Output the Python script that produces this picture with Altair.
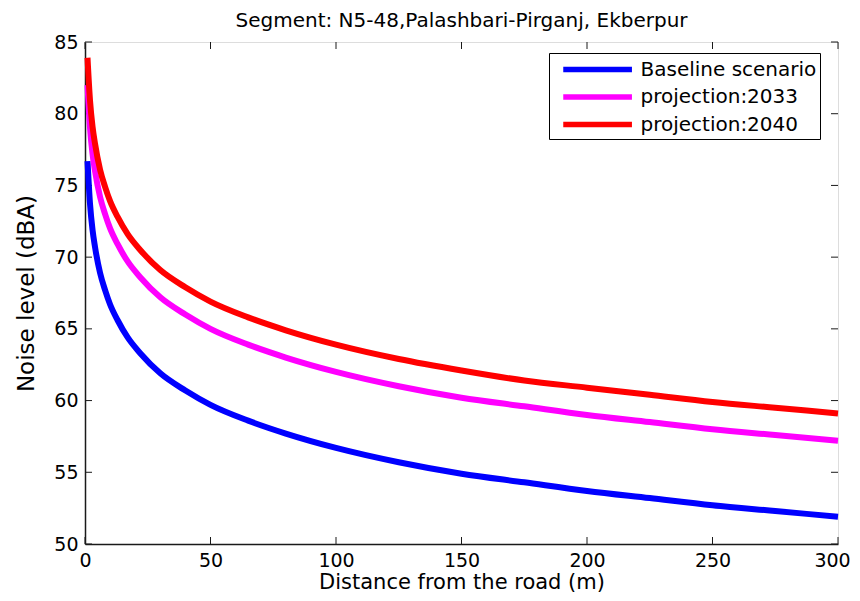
import altair as alt
import pandas as pd

# ---- data ----
distance = [1, 2, 3, 4, 6, 8, 10, 13, 17, 22, 30, 40, 50, 65, 80, 100,
            125, 150, 175, 200, 225, 250, 275, 300]
baseline = [76.7, 73.7, 71.9, 70.7, 68.9, 67.7, 66.7, 65.6, 64.4, 63.3, 61.9, 60.7,
            59.7, 58.6, 57.7, 56.7, 55.7, 54.9, 54.3, 53.7, 53.2, 52.7, 52.3, 51.9]
proj_2033 = [82.0, 79.0, 77.2, 76.0, 74.2, 73.0, 72.0, 70.9, 69.7, 68.6, 67.2, 66.0,
             65.0, 63.9, 63.0, 62.0, 61.0, 60.2, 59.6, 59.0, 58.5, 58.0, 57.6, 57.2]
proj_2040 = [83.9, 80.9, 79.1, 77.9, 76.1, 74.9, 73.9, 72.8, 71.6, 70.5, 69.1, 67.9,
             66.9, 65.8, 64.9, 63.9, 62.9, 62.1, 61.4, 60.9, 60.4, 59.9, 59.5, 59.1]

series_names = ["Baseline scenario", "projection:2033", "projection:2040"]
series_colors = ["#0000FF", "#FF00FF", "#FF0000"]

x_ticks = [0, 50, 100, 150, 200, 250, 300]
y_ticks = [50, 55, 60, 65, 70, 75, 80, 85]

title_text = "Segment: N5-48,Palashbari-Pirganj, Ekberpur"
x_title = "Distance from the road (m)"
y_title = "Noise level (dBA)"

FONT = "DejaVu Sans"
W, H = 753, 502
TICK = 7

rows = []
for name, vals in zip(series_names, [baseline, proj_2033, proj_2040]):
    for d, v in zip(distance, vals):
        rows.append({"Distance": d, "Noise": v, "Series": name})
df = pd.DataFrame(rows)
xt = pd.DataFrame({"Distance": x_ticks})
yt = pd.DataFrame({"Noise": y_ticks})

x_scale = alt.Scale(domain=[0, 300], nice=False, zero=False)
y_scale = alt.Scale(domain=[50, 85], nice=False, zero=False)

x_axis = alt.Axis(values=x_ticks, ticks=False, tickSize=0, grid=False, labelFlush=False,
                  labelOverlap=False, labelPadding=7, titlePadding=1,
                  labelOffset={"condition": {"test": "datum.value == 300", "value": -6},
                               "value": 0},
                  labelFont=FONT, labelFontSize=19, labelColor="black",
                  titleFont=FONT, titleFontSize=21, titleFontWeight="normal", titleColor="black",
                  domainColor="#1a1a1a", domainWidth=1.5)
y_axis = alt.Axis(values=y_ticks, ticks=False, tickSize=0, grid=False, labelFlush=False,
                  labelOverlap=False, labelPadding=7, titlePadding=15,
                  labelFont=FONT, labelFontSize=19, labelColor="black",
                  titleFont=FONT, titleFontSize=23, titleFontWeight="normal", titleColor="black",
                  domainColor="#1a1a1a", domainWidth=1.5)

X = alt.X("Distance:Q", scale=x_scale, axis=x_axis, title=x_title)
Y = alt.Y("Noise:Q", scale=y_scale, axis=y_axis, title=y_title)

lines = alt.Chart(df).mark_line(strokeWidth=6, interpolate="monotone").encode(
    x=X,
    y=Y,
    color=alt.Color("Series:N",
                    scale=alt.Scale(domain=series_names, range=series_colors),
                    sort=series_names,
                    legend=alt.Legend(title=None, orient="none", legendX=464, legendY=11,
                                      symbolType="M-0.225,0H6.645", symbolSize=400,
                                      symbolStrokeWidth=5.5, labelFont=FONT, labelFontSize=20,
                                      labelColor="black", labelOffset=62, labelLimit=400,
                                      rowPadding=3.5, padding=3.5,
                                      strokeColor="black", fillColor="white")),
    order=alt.Order("Series:N"),
)

tick_color = "#1a1a1a"
bottom_ticks = alt.Chart(xt).mark_rule(color=tick_color, strokeWidth=1).encode(
    x=X, y=alt.value(H), y2=alt.value(H - TICK))
top_ticks = alt.Chart(xt).mark_rule(color=tick_color, strokeWidth=1).encode(
    x=X, y=alt.value(0), y2=alt.value(TICK))
left_ticks = alt.Chart(yt).mark_rule(color=tick_color, strokeWidth=1).encode(
    y=Y, x=alt.value(0), x2=alt.value(TICK))
right_ticks = alt.Chart(yt).mark_rule(color=tick_color, strokeWidth=1).encode(
    y=Y, x=alt.value(W), x2=alt.value(W - TICK))

chart = alt.layer(bottom_ticks, top_ticks, left_ticks, right_ticks, lines).properties(
    width=W,
    height=H,
    title=alt.Title(title_text, font=FONT, fontSize=20, fontWeight="normal",
                    color="black", offset=2, anchor="middle", frame="group"),
    autosize=alt.AutoSizeParams(type="none"),
    padding={"left": 77, "top": 34, "right": 14, "bottom": 49},
).configure_view(
    stroke="#1a1a1a", strokeWidth=1.5
).configure_legend(
    strokeColor="black", strokeWidth=1.2, fillColor="white"
).configure(background="white")

chart.save("out.html", embed_options={"renderer": "svg", "actions": False})
